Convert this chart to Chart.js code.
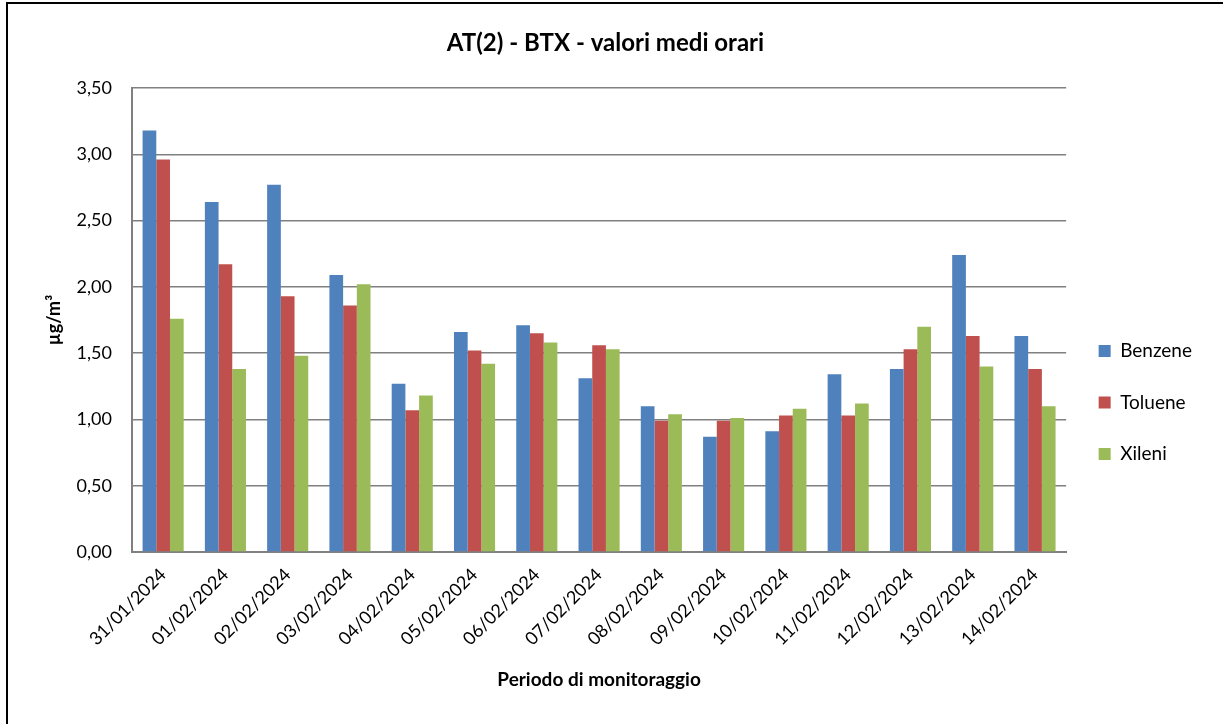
<!DOCTYPE html>
<html>
<head>
<meta charset="utf-8">
<script src="https://cdn.jsdelivr.net/npm/chart.js@4"></script>
<style>
  html, body { margin: 0; padding: 0; background: #fff; overflow: hidden; }
  #wrap { position: relative; width: 1223px; height: 724px; }
  #frame { position: absolute; left: 6px; top: 2px; width: 1300px; height: 800px; border: 2px solid #000; pointer-events: none; }
  canvas { position: absolute; left: 0; top: 0; }
</style>
</head>
<body>
<div id="wrap">
  <canvas id="myChart" width="1223" height="724"></canvas>
  <div id="frame"></div>
</div>
<script>
const labels = ['31/01/2024', '01/02/2024', '02/02/2024', '03/02/2024', '04/02/2024', '05/02/2024', '06/02/2024',
  '07/02/2024', '08/02/2024', '09/02/2024', '10/02/2024', '11/02/2024', '12/02/2024', '13/02/2024', '14/02/2024'];
const benzene = [3.18, 2.64, 2.77, 2.09, 1.27, 1.66, 1.71, 1.31, 1.10, 0.87, 0.91, 1.34, 1.38, 2.24, 1.63];
const toluene = [2.96, 2.17, 1.93, 1.86, 1.07, 1.52, 1.65, 1.56, 0.99, 0.99, 1.03, 1.03, 1.53, 1.63, 1.38];
const xileni = [1.76, 1.38, 1.48, 2.02, 1.18, 1.42, 1.58, 1.53, 1.04, 1.01, 1.08, 1.12, 1.70, 1.40, 1.10];

Chart.defaults.font.family = 'Lato, "Open Sans", sans-serif';
Chart.defaults.color = '#000';

// move the legend column down to where it sits in the original
const legendPos = {
    id: 'legendPos',
    afterLayout(chart) {
        const lg = chart.legend;
        const h = lg.bottom - lg.top;
        lg.top = 309;
        lg.bottom = lg.top + h;
    }
};

const ctx = document.getElementById('myChart');

new Chart(ctx, {
    type: 'bar',
    data: {
        labels: labels,
        datasets: [{
            label: 'Benzene',
            data: benzene,
            backgroundColor: '#4F81BD'
        }, {
            label: 'Toluene',
            data: toluene,
            backgroundColor: '#C0504D'
        }, {
            label: 'Xileni',
            data: xileni,
            backgroundColor: '#9BBB59'
        }]
    },
    options: {
        responsive: false,
        animation: false,
        devicePixelRatio: 1,
        categoryPercentage: 0.66,
        barPercentage: 1.0,
        layout: { padding: { left: 9, right: 21, top: 0, bottom: 0 } },
        plugins: {
            title: {
                display: true,
                text: 'AT(2) - BTX - valori medi orari',
                font: { size: 24, weight: 'bold' },
                padding: { top: 28.6, bottom: 30.6 }
            },
            legend: {
                position: 'right',
                align: 'start',
                labels: {
                    boxWidth: 12,
                    boxHeight: 12,
                    padding: 32.5,
                    font: { size: 19 }
                }
            },
            tooltip: { enabled: false }
        },
        scales: {
            x: {
                grid: { display: false, drawTicks: false },
                border: { display: true, color: '#808080', width: 2 },
                ticks: {
                    autoSkip: false,
                    maxRotation: 45,
                    minRotation: 45,
                    padding: 12,
                    font: { size: 18 }
                },
                title: {
                    display: true,
                    text: 'Periodo di monitoraggio',
                    font: { size: 19, weight: 'bold' },
                    padding: { top: 0, bottom: 32.6 }
                },
                afterFit(scale) { scale.height = 172; }
            },
            y: {
                min: 0,
                max: 3.5,
                grid: { color: '#808080', lineWidth: 1.5, drawTicks: false },
                border: { display: true, color: '#808080', width: 2 },
                ticks: {
                    stepSize: 0.5,
                    padding: 20,
                    font: { size: 18 },
                    callback: v => v.toFixed(2).replace('.', ',')
                },
                title: {
                    display: true,
                    text: 'µg/m³',
                    font: { size: 18, weight: 'bold' },
                    padding: { top: 34, bottom: 0 }
                },
                afterFit(scale) { scale.width = 123; }
            }
        }
    },
    plugins: [legendPos]
});
</script>
</body>
</html>
